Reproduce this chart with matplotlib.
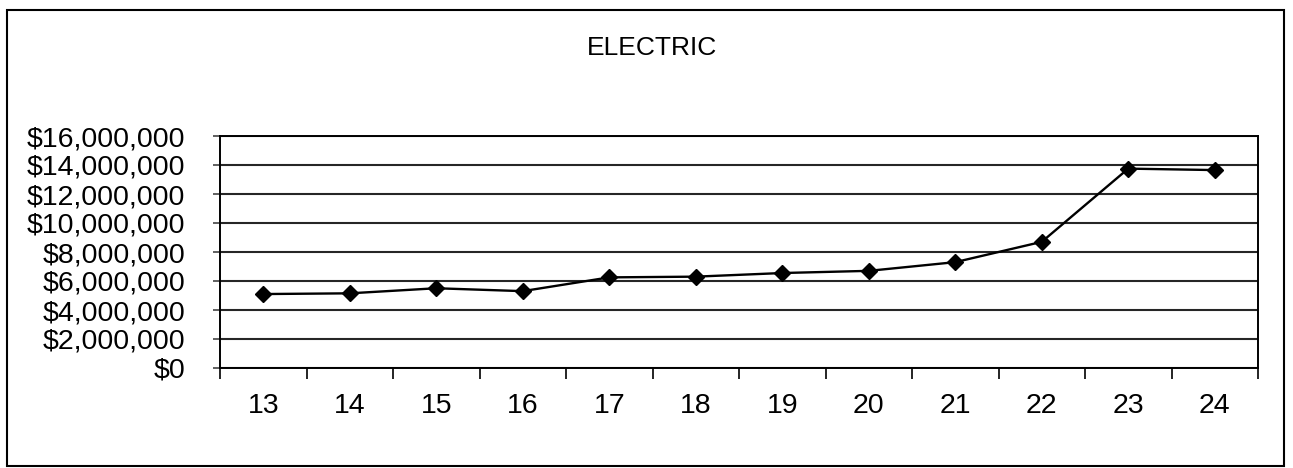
import matplotlib
matplotlib.use("Agg")
import matplotlib.pyplot as plt
from matplotlib.ticker import FuncFormatter, FixedLocator
from matplotlib.patches import Rectangle

categories = ["13", "14", "15", "16", "17", "18", "19", "20", "21", "22", "23", "24"]
values = [5100000, 5150000, 5500000, 5300000, 6250000, 6300000,
          6550000, 6700000, 7300000, 8700000, 13750000, 13650000]
y_ticks = [0, 2000000, 4000000, 6000000, 8000000, 10000000, 12000000, 14000000, 16000000]
title = "ELECTRIC"

plt.rcParams['font.family'] = ['Liberation Sans', 'DejaVu Sans']

W, H = 1293, 468
fig = plt.figure(figsize=(W / 100, H / 100), dpi=100)
fig.patch.set_facecolor("white")

# outer chart border
fig.patches.append(Rectangle((7 / W, 1 - 466 / H), (1284 - 7) / W, (466 - 10) / H,
                             transform=fig.transFigure, fill=False,
                             edgecolor="black", linewidth=1.5))

ax = fig.add_axes([220 / W, 1 - 368 / H, (1258 - 220) / W, (368 - 136) / H])
x = list(range(len(categories)))
ax.plot(x, values, color="black", linewidth=1.7, marker="D", markersize=8.5,
        markerfacecolor="black", markeredgecolor="black", zorder=3)

ax.set_xlim(-0.5, len(categories) - 0.5)
ax.set_ylim(0, 16000000)
ax.set_yticks(y_ticks)
ax.yaxis.set_major_formatter(FuncFormatter(lambda v, p: "${:,.0f}".format(v)))
ax.set_xticks(x)
ax.set_xticklabels(categories)
ax.xaxis.set_minor_locator(FixedLocator([i - 0.5 for i in range(len(categories) + 1)]))
ax.tick_params(axis="x", which="major", length=0, pad=18, labelsize=20.5)
ax.tick_params(axis="x", which="minor", length=8, width=1.2, direction="out", color="black")
ax.tick_params(axis="y", which="major", length=5, width=1.2, direction="out",
               pad=20, labelsize=20.5, color="#444444")

ax.grid(axis="y", color="#262626", linewidth=1.5)
ax.set_axisbelow(True)
for side in ["left", "right", "top", "bottom"]:
    ax.spines[side].set_color("black")
    ax.spines[side].set_linewidth(1.4)

fig.text(652 / W, 1 - 48 / H, title, ha="center", va="center", fontsize=19)

fig.savefig("out.png", dpi=100, facecolor="white")
